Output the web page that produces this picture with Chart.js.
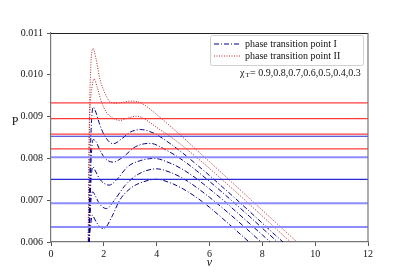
<!DOCTYPE html>
<html><head><meta charset="utf-8">
<script src="https://cdn.jsdelivr.net/npm/chart.js@4/dist/chart.umd.min.js"></script>
<style>html,body{margin:0;padding:0;background:#fff;}#wrap{width:409px;height:272px;}</style>
</head><body><div id="wrap"><canvas id="c" width="409" height="272"></canvas></div>
<script>
// ---- data ----
const xTicks = [0, 2, 4, 6, 8, 10, 12];
const yTicks = [0.006, 0.007, 0.008, 0.009, 0.010, 0.011];
const chiValues = "0.9,0.8,0.7,0.6,0.5,0.4,0.3";

// phase transition point II (red dotted)
const vR1 = [1.40,1.45,1.50,1.59,1.70,1.85,2.05,2.20,2.40,2.70,3.00,3.30,3.60,4.00,4.50,5.00,5.50,6.00,6.50,7.00,7.50,8.00,8.50,9.00,9.31];
const pR1 = [0.0055,0.0088,0.0101,0.01063,0.0104,0.0099,0.00955,0.00938,0.00932,0.00934,0.00937,0.00935,0.00925,0.00905,0.00878,0.0085,0.00821,0.00792,0.00763,0.00734,0.00705,0.00676,0.00647,0.00618,0.0060];
const vR2 = [1.40,1.45,1.50,1.55,1.63,1.75,1.90,2.10,2.30,2.60,2.90,3.25,3.60,4.00,4.50,5.00,5.50,6.00,6.50,7.00,7.50,8.00,8.50,9.00,9.07];
const pR2 = [0.0055,0.0085,0.0094,0.0097,0.0099,0.0097,0.00937,0.0091,0.00898,0.00891,0.00896,0.00901,0.00892,0.00874,0.00853,0.00829,0.00803,0.00776,0.00748,0.0072,0.00691,0.00662,0.00633,0.00604,0.0060];

// phase transition point I (blue dash-dot)
const vB1 = [1.43,1.47,1.52,1.60,1.70,1.85,2.05,2.35,2.70,3.00,3.40,3.90,4.50,5.00,5.50,6.00,6.50,7.00,7.50,8.00,8.50,8.78];
const pB1 = [0.0055,0.0075,0.0087,0.00923,0.0091,0.0088,0.00852,0.00835,0.00848,0.00863,0.00869,0.0086,0.00836,0.00812,0.00786,0.00759,0.00731,0.00703,0.00674,0.00645,0.00616,0.0060];
const vB2 = [1.43,1.47,1.52,1.60,1.70,1.85,2.05,2.35,2.70,3.20,3.75,4.30,5.00,5.50,6.00,6.50,7.00,7.50,8.00,8.58];
const pB2 = [0.0055,0.0070,0.0080,0.00845,0.0084,0.0082,0.0080,0.00791,0.00802,0.00828,0.00836,0.00822,0.00795,0.00771,0.00745,0.00718,0.0069,0.00662,0.00633,0.0060];
const vB3 = [1.42,1.46,1.50,1.58,1.68,1.85,2.20,2.50,2.90,3.40,3.90,4.50,5.00,5.50,6.00,6.50,7.00,7.50,8.00,8.30];
const pB3 = [0.0055,0.0065,0.0073,0.0078,0.0077,0.0075,0.00736,0.0075,0.0078,0.00795,0.0080,0.00789,0.00773,0.00752,0.00727,0.00701,0.00673,0.00645,0.00617,0.0060];
const vB4 = [1.42,1.46,1.50,1.58,1.68,1.85,2.10,2.40,2.80,3.30,4.00,4.50,5.00,5.50,6.00,6.50,7.00,7.50,7.95];
const pB4 = [0.0055,0.0063,0.0069,0.0072,0.0071,0.0069,0.0068,0.0070,0.00735,0.00762,0.00775,0.00767,0.00752,0.00731,0.00707,0.00681,0.00654,0.00626,0.0060];
const vB5 = [1.42,1.45,1.50,1.57,1.65,1.80,2.00,2.30,2.60,3.00,3.50,4.00,4.50,5.00,5.50,6.00,6.50,7.00,7.50];
const pB5 = [0.0055,0.0060,0.0064,0.00664,0.00655,0.0064,0.00632,0.0066,0.0070,0.00728,0.00744,0.0075,0.00742,0.00727,0.00707,0.00683,0.00656,0.00628,0.0060];

// horizontal transition pressures
const hRed = [0.00933, 0.00895, 0.00858, 0.00823];
const hBlue = [0.00853, 0.00750];
const hLightBlue = [0.00803, 0.00693, 0.00636];

// ---- build datasets ----
const pts = (vs, ps) => vs.map((v, i) => ({x: v, y: ps[i]}));
const hl = (p) => [{x: 0, y: p}, {x: 12, y: p}];
const datasets = [];
hRed.forEach(p => datasets.push({data: hl(p), borderColor: '#ff3b3b', borderWidth: 1.2}));
hBlue.forEach(p => datasets.push({data: hl(p), borderColor: '#2a2ad8', borderWidth: 1.2}));
hLightBlue.forEach(p => datasets.push({data: hl(p), borderColor: '#8c8cff', borderWidth: 2}));
const blueCurve = (vs, ps) => ({data: pts(vs, ps), borderColor: '#00008b', borderWidth: 1, borderDash: [5, 2, 1, 2], cubicInterpolationMode: 'monotone'});
const redCurve = (vs, ps) => ({data: pts(vs, ps), borderColor: '#b42020', borderWidth: 1, borderDash: [1, 1.5], cubicInterpolationMode: 'monotone'});
[[vB1,pB1],[vB2,pB2],[vB3,pB3],[vB4,pB4],[vB5,pB5]].forEach(a => datasets.push(blueCurve(a[0], a[1])));
[[vR1,pR1],[vR2,pR2]].forEach(a => datasets.push(redCurve(a[0], a[1])));

const SERIF = '"Liberation Serif", "DejaVu Serif", serif';

const decor = {
  id: 'decor',
  afterDraw(chart) {
    const ctx = chart.ctx, a = chart.chartArea;
    ctx.save();
    // top and right spines
    ctx.lineWidth = 1.2;
    ctx.strokeStyle = '#222';
    ctx.beginPath(); ctx.moveTo(a.left, a.top + 0.5); ctx.lineTo(a.right, a.top + 0.5); ctx.stroke();
    ctx.strokeStyle = '#777';
    ctx.beginPath(); ctx.moveTo(a.right, a.top); ctx.lineTo(a.right, a.bottom); ctx.stroke();
    // axis titles
    ctx.fillStyle = '#111';
    ctx.font = '12px ' + SERIF;
    ctx.textAlign = 'center'; ctx.textBaseline = 'middle';
    ctx.fillText('P', 15, 122);
    ctx.font = 'italic 12px ' + SERIF;
    ctx.fillText('v', (a.left + a.right) / 2, 263);
    // legend box
    const bx = 210, by = 35, bw = 153, bh = 30;
    ctx.fillStyle = 'rgba(255,255,255,0.85)';
    ctx.strokeStyle = '#d0d0d0'; ctx.lineWidth = 1;
    ctx.beginPath();
    if (ctx.roundRect) ctx.roundRect(bx + 0.5, by + 0.5, bw, bh, 2); else ctx.rect(bx + 0.5, by + 0.5, bw, bh);
    ctx.fill(); ctx.stroke();
    // entries
    ctx.lineWidth = 1;
    ctx.strokeStyle = '#00008b'; ctx.setLineDash([5, 2, 1, 2]);
    ctx.beginPath(); ctx.moveTo(214, 44); ctx.lineTo(240, 44); ctx.stroke();
    ctx.strokeStyle = '#b42020'; ctx.setLineDash([1, 1.5]);
    ctx.beginPath(); ctx.moveTo(214, 56); ctx.lineTo(240, 56); ctx.stroke();
    ctx.setLineDash([]);
    ctx.fillStyle = '#111';
    ctx.font = '10px ' + SERIF;
    ctx.textAlign = 'left'; ctx.textBaseline = 'middle';
    ctx.fillText('phase transition point I', 245, 44);
    ctx.fillText('phase transition point II', 245, 56);
    // chi_T text
    ctx.font = '10px ' + SERIF;
    ctx.fillText('\u03c7', 240, 73);
    ctx.font = '7px ' + SERIF;
    ctx.fillText('T', 245.5, 75);
    ctx.font = '10px ' + SERIF;
    ctx.fillText('= ' + chiValues, 250, 73);
    ctx.restore();
  }
};

new Chart(document.getElementById('c'), {
  type: 'line',
  data: {datasets},
  options: {
    responsive: false,
    animation: false,
    devicePixelRatio: 1,
    layout: {padding: {left: 0, right: 41, top: 33, bottom: 0}},
    elements: {point: {radius: 0}, line: {tension: 0}},
    plugins: {legend: {display: false}, tooltip: {enabled: false}},
    scales: {
      x: {
        type: 'linear', min: 0, max: 12,
        afterBuildTicks: s => { s.ticks = xTicks.map(v => ({value: v})); },
        afterFit: s => { s.height = 30; },
        ticks: {font: {family: SERIF, size: 10}, color: '#111', padding: 2, maxRotation: 0, callback: v => String(v)},
        grid: {drawOnChartArea: false, drawTicks: true, tickLength: 4, tickColor: '#555'},
        border: {display: true, color: '#777', width: 1.2}
      },
      y: {
        type: 'linear', min: 0.006, max: 0.011,
        afterBuildTicks: s => { s.ticks = yTicks.map(v => ({value: v})); },
        afterFit: s => { s.width = 51; },
        ticks: {font: {family: SERIF, size: 10}, color: '#111', padding: 4, callback: v => Number(v).toFixed(3)},
        grid: {drawOnChartArea: false, drawTicks: true, tickLength: 4, tickColor: '#555'},
        border: {display: true, color: '#777', width: 1.2}
      }
    }
  },
  plugins: [decor]
});
</script>
</body></html>
